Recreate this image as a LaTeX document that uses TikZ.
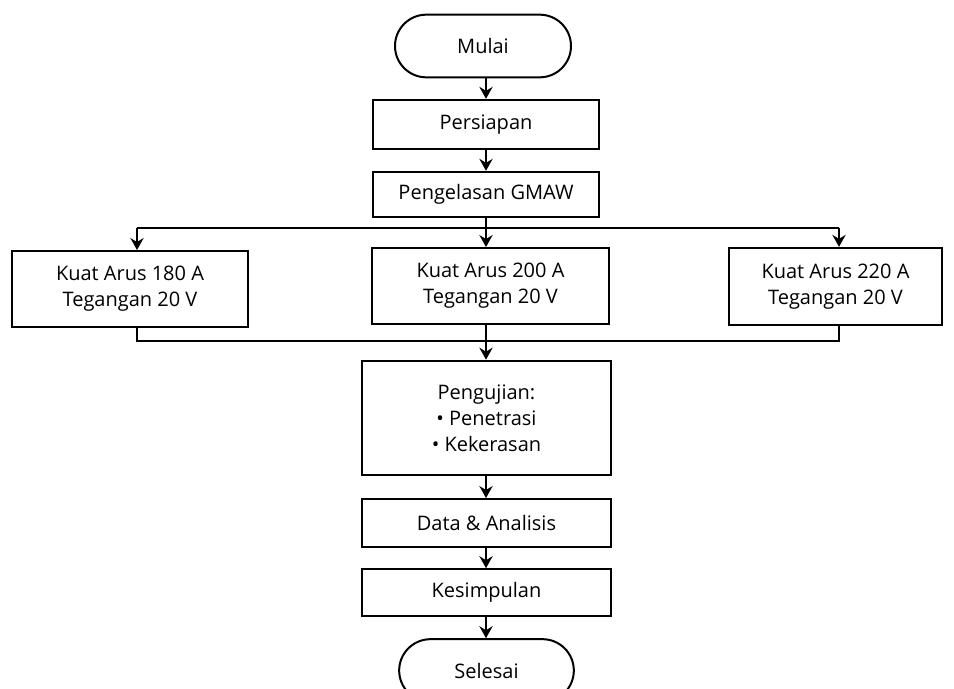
\documentclass[tikz,border=0pt]{standalone}
\usepackage{fontspec}
\setmainfont{Open Sans}
\usetikzlibrary{arrows.meta,shapes.misc}

\tikzset{
	box/.style={draw, line width=1.5pt, rectangle, align=center, inner sep=0pt},
	term/.style={draw, line width=1.5pt, rounded rectangle, align=center, inner sep=0pt},
	arr/.style={line width=1.1pt, -{Stealth[length=9pt, width=10pt, inset=3pt]}},
	ln/.style={line width=1.1pt}
}

\begin{document}
\begin{tikzpicture}[x=0.75pt, y=-0.75pt, font=\fontsize{15}{19.5}\selectfont]
	\useasboundingbox (0,0) rectangle (954,689);
	% terminators and steps
	\node[term, minimum width=132pt, minimum height=47pt] (mulai) at (483,46) {Mulai};
	\node[box, minimum width=169pt, minimum height=37pt] (persiapan) at (486,124.5) {Persiapan};
	\node[box, minimum width=169pt, minimum height=34pt] (gmaw) at (486,194.5) {Pengelasan GMAW};
	% three welding settings
	\node[box, minimum width=177pt, minimum height=57pt] (arus180) at (130,289) {Kuat Arus 180 A\\Tegangan 20 V};
	\node[box, minimum width=178pt, minimum height=57pt] (arus200) at (490.5,286) {Kuat Arus 200 A\\Tegangan 20 V};
	\node[box, minimum width=160pt, minimum height=58pt] (arus220) at (835.5,286.5) {Kuat Arus 220 A\\Tegangan 20 V};
	% testing and after
	\node[box, minimum width=187pt, minimum height=86pt] (pengujian) at (486.5,418) {Pengujian:\\\textbullet\ Penetrasi\\\textbullet\ Kekerasan};
	\node[box, minimum width=187pt, minimum height=36pt] (data) at (486.5,523) {Data \& Analisis};
	\node[box, minimum width=187pt, minimum height=35pt] (kesimpulan) at (486.5,592.5) {Kesimpulan};
	\node[term, minimum width=131pt, minimum height=47pt] (selesai) at (486.5,670.5) {Selesai};

	\coordinate (split) at (486,228);
	\coordinate (s180) at (137,228);
	\coordinate (s220) at (839,228);
	\coordinate (merge) at (486,341);
	\coordinate (m180) at (137,341);
	\coordinate (m220) at (839,341);

	\draw[arr] (mulai.south -| split) -- (persiapan.north -| split);
	\draw[arr] (persiapan.south -| split) -- (gmaw.north -| split);
	\draw[ln] (gmaw.south -| split) -- (split);
	\draw[ln] (s180) -- (s220);
	\draw[arr] (s180) -- (s180 |- arus180.north);
	\draw[arr] (split) -- (split |- arus200.north);
	\draw[arr] (s220) -- (s220 |- arus220.north);
	\draw[ln] (m180 |- arus180.south) -- (m180) -- (m220) -- (m220 |- arus220.south);
	\draw[ln] (merge |- arus200.south) -- (merge);
	\draw[arr] (merge) -- (merge |- pengujian.north);
	\draw[arr] (pengujian.south -| merge) -- (data.north -| merge);
	\draw[arr] (data.south -| merge) -- (kesimpulan.north -| merge);
	\draw[arr] (kesimpulan.south -| merge) -- (selesai.north -| merge);
\end{tikzpicture}
\end{document}
